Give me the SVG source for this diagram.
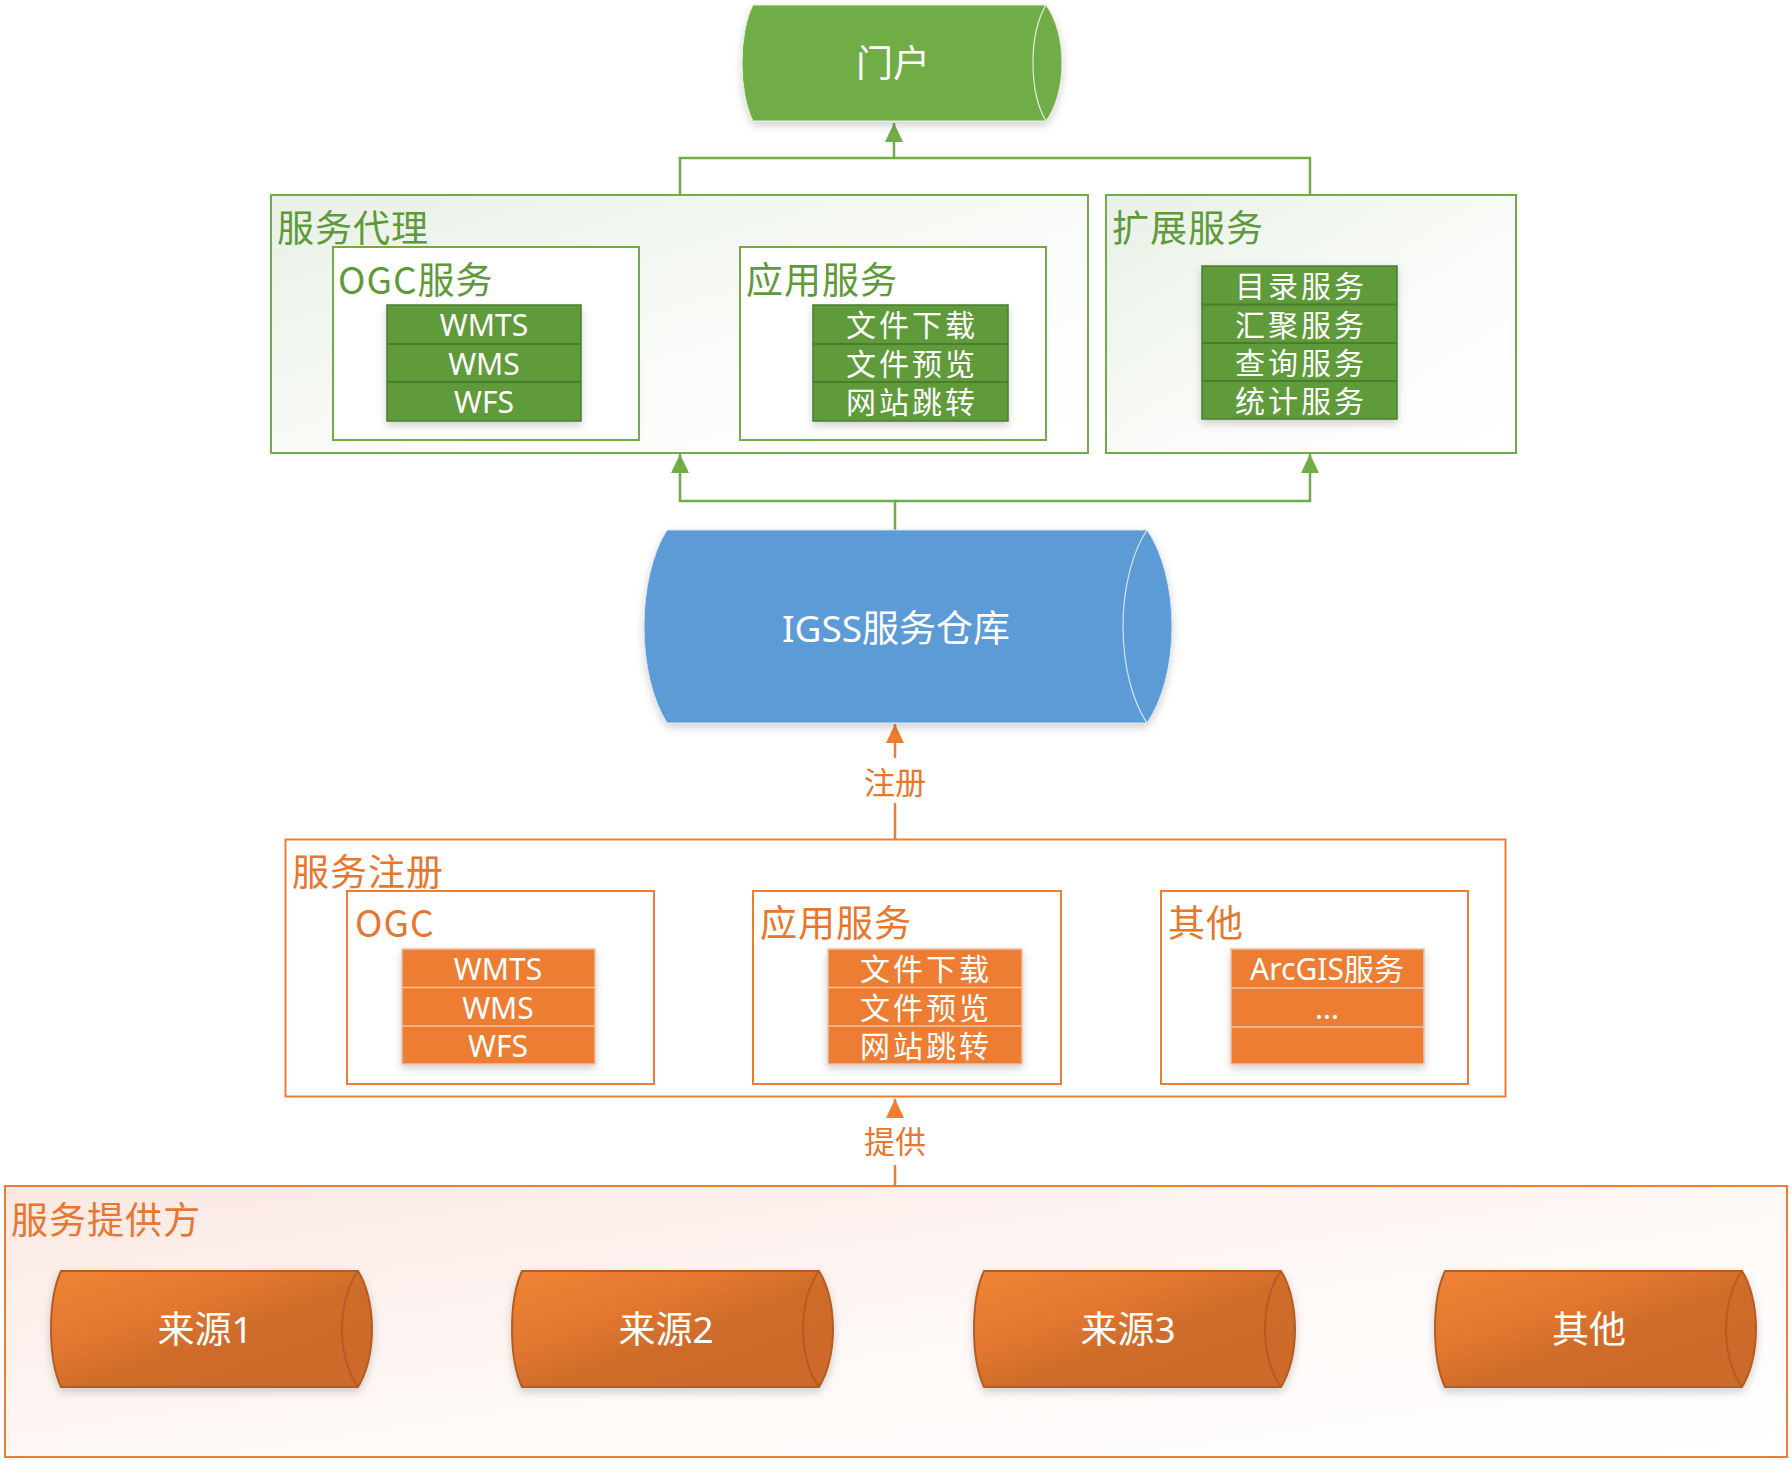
<svg xmlns="http://www.w3.org/2000/svg" width="1791" height="1461" viewBox="0 0 1791 1461">
<defs>
<style>
text{font-family:"Noto Sans","Noto Sans CJK SC",sans-serif;dominant-baseline:central}
.gbox{fill:none;stroke:#70AD47;stroke-width:2}
.gt{fill:#5E9A37;font-size:37px;letter-spacing:1px;font-family:"Noto Sans CJK SC","Noto Sans",sans-serif}
.obox{fill:none;stroke:#ED7D31;stroke-width:2}
.ot{fill:#E8772E;font-size:37px;letter-spacing:1px;font-family:"Noto Sans CJK SC","Noto Sans",sans-serif}
.gi{fill:#5F9A3B;stroke:#4B7D2F;stroke-width:1.5}
.oi{fill:#ED7D31;stroke:#E9C2A9;stroke-width:1.5}
.it{fill:#fff;font-size:30px;text-anchor:middle}
.cj{letter-spacing:3px}
.ct{fill:#fff;font-size:37px;text-anchor:middle}
.gc{stroke:#70AD47;stroke-width:2.5;fill:none}
.oc{stroke:#ED7D31;stroke-width:2.5;fill:none}
.lbl{fill:#E8772E;font-size:31px;text-anchor:middle}
.src{fill:url(#srcg);stroke:#B35D22;stroke-width:2}
.srcin{fill:none;stroke:#B35D22;stroke-width:2}
</style>
<linearGradient id="gbg" x1="0" y1="0" x2="1" y2="1">
<stop offset="0" stop-color="#E9F0E6"/>
<stop offset="0.6" stop-color="#FBFCFA"/>
<stop offset="1" stop-color="#FFFFFF"/>
</linearGradient>
<linearGradient id="obg" x1="0" y1="0" x2="1" y2="1">
<stop offset="0" stop-color="#FBE8E2"/>
<stop offset="0.55" stop-color="#FEF9F7"/>
<stop offset="1" stop-color="#FFFFFF"/>
</linearGradient>
<linearGradient id="srcg" x1="0" y1="0" x2="1" y2="1">
<stop offset="0" stop-color="#F08335"/>
<stop offset="0.35" stop-color="#E2772F"/>
<stop offset="0.55" stop-color="#CF6C2B"/>
<stop offset="1" stop-color="#CC6A2A"/>
</linearGradient>
<filter id="sh" x="-10%" y="-10%" width="120%" height="130%">
<feDropShadow dx="0" dy="4" stdDeviation="4" flood-color="#000" flood-opacity="0.18"/>
</filter>
<marker id="ga" viewBox="0 0 19 18" refX="19" refY="9" markerWidth="19" markerHeight="18" markerUnits="userSpaceOnUse" orient="auto">
<path d="M0,0 L19,9 L0,18 Z" fill="#70AD47"/>
</marker>
<marker id="oa" viewBox="0 0 19 18" refX="19" refY="9" markerWidth="19" markerHeight="18" markerUnits="userSpaceOnUse" orient="auto">
<path d="M0,0 L19,9 L0,18 Z" fill="#ED7D31"/>
</marker>
</defs>
<rect width="1791" height="1461" fill="#fff"/>

<g id="connectors">
<path class="gc" d="M680,195 V158 H894 V123" marker-end="url(#ga)"/>
<path class="gc" d="M1310,195 V158 H894"/>
<path class="gc" d="M895,531 V501 H680 V454" marker-end="url(#ga)"/>
<path class="gc" d="M895,501 H1310 V454" marker-end="url(#ga)"/>
<path class="oc" d="M895,839 V803"/>
<path class="oc" d="M895,758 V724" marker-end="url(#oa)"/>
<text class="lbl" x="895" y="782">注册</text>
<path class="oc" d="M895,1185 V1165"/>
<path class="oc" d="M895,1118 V1099" marker-end="url(#oa)"/>
<text class="lbl" x="895" y="1141">提供</text>
</g>

<g id="portal">
<path d="M753,5 L1046,5 A40,72.5 0 0 1 1046,121 L753,121 A27.5,72.5 0 0 1 753,5 Z" fill="#70AD47" stroke="#E3EEDC" stroke-width="1" filter="url(#sh)"/>
<path d="M1046,5 A32.5,72.5 0 0 0 1046,121" fill="none" stroke="#E3EEDC" stroke-width="1.2"/>
<text class="ct" x="893" y="62" style="font-size:37px">门户</text>
</g>

<g id="proxy">
<rect x="271" y="195" width="817" height="258" class="gbox" style="fill:url(#gbg)"/>
<text class="gt" x="277" y="226">服务代理</text>
<g id="proxy-ogc">
<rect x="333" y="247" width="306" height="193" class="gbox" style="fill:#fff"/>
<text class="gt" x="338" y="278">OGC服务</text>
<g filter="url(#sh)">
<rect class="gi" x="387" y="305" width="194" height="116"/>
<line x1="387" y1="344" x2="581" y2="344" stroke="#4B7D2F" stroke-width="2"/>
<line x1="387" y1="382" x2="581" y2="382" stroke="#4B7D2F" stroke-width="2"/>
</g>
<text class="it" x="484" y="324">WMTS</text>
<text class="it" x="484" y="363">WMS</text>
<text class="it" x="484" y="401">WFS</text>
</g>
<g id="proxy-app">
<rect x="740" y="247" width="306" height="193" class="gbox" style="fill:#fff"/>
<text class="gt" x="746" y="278">应用服务</text>
<g filter="url(#sh)">
<rect class="gi" x="813" y="305" width="195" height="116"/>
<line x1="813" y1="344" x2="1008" y2="344" stroke="#4B7D2F" stroke-width="2"/>
<line x1="813" y1="382" x2="1008" y2="382" stroke="#4B7D2F" stroke-width="2"/>
</g>
<text class="it cj" x="912" y="324">文件下载</text>
<text class="it cj" x="912" y="363">文件预览</text>
<text class="it cj" x="912" y="401">网站跳转</text>
</g>
</g>

<g id="ext">
<rect x="1106" y="195" width="410" height="258" class="gbox" style="fill:url(#gbg)"/>
<text class="gt" x="1112" y="226">扩展服务</text>
<g filter="url(#sh)">
<rect class="gi" x="1202" y="266" width="195" height="153"/>
<line x1="1202" y1="304.5" x2="1397" y2="304.5" stroke="#4B7D2F" stroke-width="2"/>
<line x1="1202" y1="343" x2="1397" y2="343" stroke="#4B7D2F" stroke-width="2"/>
<line x1="1202" y1="381" x2="1397" y2="381" stroke="#4B7D2F" stroke-width="2"/>
</g>
<text class="it cj" x="1301" y="285">目录服务</text>
<text class="it cj" x="1301" y="324">汇聚服务</text>
<text class="it cj" x="1301" y="362">查询服务</text>
<text class="it cj" x="1301" y="400">统计服务</text>
</g>

<g id="igss">
<path d="M667,530 L1147,530 A62.5,120.6 0 0 1 1147,723 L667,723 A57.5,120.6 0 0 1 667,530 Z" fill="#5B9BD5" stroke="#D6E4F1" stroke-width="1" filter="url(#sh)"/>
<path d="M1147,530 A60,120.6 0 0 0 1147,723" fill="none" stroke="#D6E4F1" stroke-width="1.2"/>
<text class="ct" x="896" y="627">IGSS服务仓库</text>
</g>

<g id="register">
<rect x="285.5" y="839.5" width="1220" height="257" class="obox"/>
<text class="ot" x="292" y="870">服务注册</text>
<g id="reg-ogc">
<rect x="347" y="891" width="307" height="193" class="obox"/>
<text class="ot" x="355" y="921">OGC</text>
<g filter="url(#sh)">
<rect class="oi" x="402" y="949" width="193" height="115"/>
<line x1="402" y1="987.5" x2="595" y2="987.5" stroke="#EDC6AE" stroke-width="1.5"/>
<line x1="402" y1="1026" x2="595" y2="1026" stroke="#EDC6AE" stroke-width="1.5"/>
</g>
<text class="it" x="498" y="968">WMTS</text>
<text class="it" x="498" y="1007">WMS</text>
<text class="it" x="498" y="1045">WFS</text>
</g>
<g id="reg-app">
<rect x="753" y="891" width="308" height="193" class="obox"/>
<text class="ot" x="760" y="921">应用服务</text>
<g filter="url(#sh)">
<rect class="oi" x="828" y="949" width="194" height="115"/>
<line x1="828" y1="987.5" x2="1022" y2="987.5" stroke="#EDC6AE" stroke-width="1.5"/>
<line x1="828" y1="1026" x2="1022" y2="1026" stroke="#EDC6AE" stroke-width="1.5"/>
</g>
<text class="it cj" x="926" y="968">文件下载</text>
<text class="it cj" x="926" y="1007">文件预览</text>
<text class="it cj" x="926" y="1045">网站跳转</text>
</g>
<g id="reg-other">
<rect x="1161" y="891" width="307" height="193" class="obox"/>
<text class="ot" x="1168" y="921">其他</text>
<g filter="url(#sh)">
<rect class="oi" x="1231" y="949" width="193" height="115"/>
<line x1="1231" y1="988" x2="1424" y2="988" stroke="#EDC6AE" stroke-width="1.5"/>
<line x1="1231" y1="1027" x2="1424" y2="1027" stroke="#EDC6AE" stroke-width="1.5"/>
</g>
<text class="it" x="1327" y="968">ArcGIS服务</text>
<text class="it" x="1327" y="1007">...</text>
</g>
</g>

<g id="providers">
<rect x="5" y="1186" width="1782" height="271" class="obox" style="fill:url(#obg)"/>
<text class="ot" x="11" y="1218">服务提供方</text>
<g id="src1">
<path class="src" filter="url(#sh)" d="M61,1271 L358,1271 A35,72.5 0 0 1 358,1387 L61,1387 A25,72.5 0 0 1 61,1271 Z"/>
<path class="srcin" d="M358,1271 A40,72.5 0 0 0 358,1387"/>
<text class="ct" x="205" y="1328">来源1</text>
</g>
<g id="src2">
<path class="src" filter="url(#sh)" d="M522,1271 L819,1271 A35,72.5 0 0 1 819,1387 L522,1387 A25,72.5 0 0 1 522,1271 Z"/>
<path class="srcin" d="M819,1271 A40,72.5 0 0 0 819,1387"/>
<text class="ct" x="666" y="1328">来源2</text>
</g>
<g id="src3">
<path class="src" filter="url(#sh)" d="M984,1271 L1281,1271 A35,72.5 0 0 1 1281,1387 L984,1387 A25,72.5 0 0 1 984,1271 Z"/>
<path class="srcin" d="M1281,1271 A40,72.5 0 0 0 1281,1387"/>
<text class="ct" x="1128" y="1328">来源3</text>
</g>
<g id="src4">
<path class="src" filter="url(#sh)" d="M1445,1271 L1742,1271 A35,72.5 0 0 1 1742,1387 L1445,1387 A25,72.5 0 0 1 1445,1271 Z"/>
<path class="srcin" d="M1742,1271 A40,72.5 0 0 0 1742,1387"/>
<text class="ct" x="1589" y="1328">其他</text>
</g>
</g>
</svg>
